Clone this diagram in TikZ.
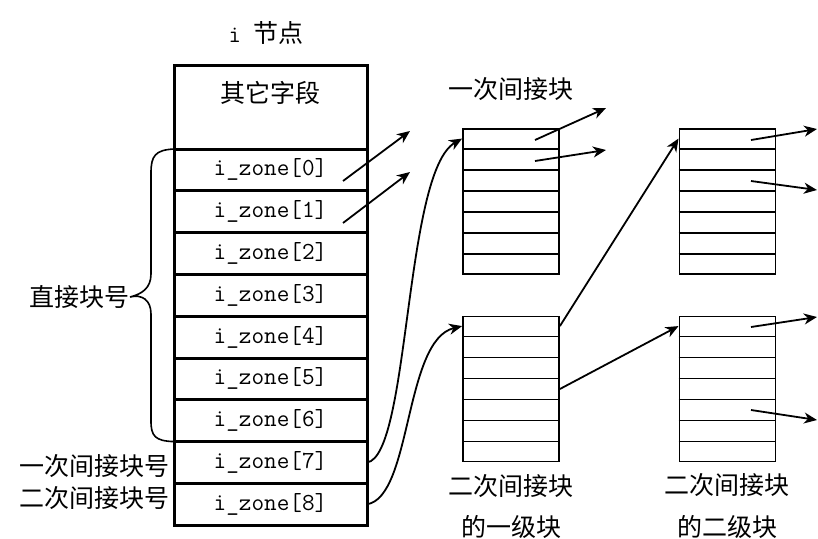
\documentclass[tikz,border=0pt]{standalone}
\usepackage{fontspec}
\newfontfamily\cjk{Noto Sans CJK SC}
\usetikzlibrary{arrows.meta,calc}
\begin{document}
\begin{tikzpicture}[x=1pt,y=-1pt,
  cell/.style={draw, line width=3pt, minimum width=193pt, minimum height=41.8pt,
    inner sep=0pt, outer sep=0pt, font=\fontsize{24.5}{28}\selectfont\ttfamily},
  blk/.style={draw, line width=1.8pt, minimum width=96pt, minimum height=145pt, inner sep=0pt},
  lab/.style={font=\fontsize{25}{30}\selectfont\cjk, inner sep=0pt},
  arr/.style={line width=1.8pt, -{Stealth[length=13pt,width=11pt,inset=4pt]}}
]
\useasboundingbox (0,0) rectangle (818,538);

% title
\node[lab] (title) at (266,33) {{\fontsize{24}{28}\selectfont\ttfamily i\ }节点};

% inode table
\node[cell, minimum height=84pt] (hdr) at (270.5,107) {};
\node[lab] (hdrtxt) at (270.5,93) {其它字段};
\foreach \i in {0,...,8} {
  \node[cell] (z\i) at (270.5,{169.9+41.8*\i}) {\raisebox{-3pt}{i\_zone[\i]}};
}

% brace and left labels
\node[lab, anchor=east] (direct) at (130,297) {直接块号};
\draw[line width=1.6pt] (z0.north west) .. controls (155,150) and (151,156) .. (151,173)
  -- (151,274) .. controls (151,288) and (142,294) .. (direct.east)
  .. controls (142,294) and (151,300) .. (151,314)
  -- (151,421) .. controls (151,436) and (155,441) .. (z6.south west);
\node[lab, anchor=east] (ind1) at (170,466) {一次间接块号};
\node[lab, anchor=east] (ind2) at (170,498) {二次间接块号};

% blocks
\node[blk] (b1) at (511,201.5) {};
\node[blk] (b2) at (511,389) {};
\node[blk] (b3) at (727.4,201.5) {};
\node[blk] (b4) at (727.4,389) {};
\foreach \b in {b1,b2,b3,b4} {
  \foreach \k in {1,...,6} {
    \draw[line width=1.8pt] ($(\b.north west)!\k/7!(\b.south west)$) -- ($(\b.north east)!\k/7!(\b.south east)$);
  }
}

% block labels
\node[lab] (l1) at (511,89) {一次间接块};
\node[lab] (l2a) at (511,486) {二次间接块};
\node[lab] (l2b) at (511,527) {的一级块};
\node[lab] (l3a) at (727,485) {二次间接块};
\node[lab] (l3b) at (727,527) {的二级块};

% direct pointers
\coordinate (s0) at (343,181);
\coordinate (e0) at (410,131);
\coordinate (s1) at (343,223);
\coordinate (e1) at (410,172);
\draw[arr] (s0) -- (e0);
\draw[arr] (s1) -- (e1);

% indirect curves
\coordinate (b1in) at ($(b1.north west)!0.5/7!(b1.south west)$);
\coordinate (b2in) at ($(b2.north west)!0.5/7!(b2.south west)$);
\draw[arr] (z7.east) .. controls (410,456) and (404,172) .. (b1in);
\draw[arr] (z8.east) .. controls (412,497) and (404,340) .. (b2in);

% block 1 pointers
\coordinate (p1a) at (535,140);
\coordinate (q1a) at (606,108);
\coordinate (p1b) at (535,161);
\coordinate (q1b) at (606,150);
\draw[arr] (p1a) -- (q1a);
\draw[arr] (p1b) -- (q1b);

% block 2 to level-2 blocks
\coordinate (b2o1) at ($(b2.north east)!0.5/7!(b2.south east)$);
\coordinate (b2o2) at ($(b2.north east)!3.5/7!(b2.south east)$);
\coordinate (b3in) at ($(b3.north west)!0.5/7!(b3.south west)$);
\coordinate (b4in) at ($(b4.north west)!0.5/7!(b4.south west)$);
\draw[arr] (b2o1) -- (b3in);
\draw[arr] (b2o2) -- (b4in);

% block 3 & 4 pointers
\coordinate (p3a) at (751,140);
\coordinate (q3a) at (817,129);
\coordinate (p3b) at (751,181);
\coordinate (q3b) at (817,190);
\coordinate (p4a) at (751,327);
\coordinate (q4a) at (817,317);
\coordinate (p4b) at (751,410);
\coordinate (q4b) at (817,420);
\draw[arr] (p3a) -- (q3a);
\draw[arr] (p3b) -- (q3b);
\draw[arr] (p4a) -- (q4a);
\draw[arr] (p4b) -- (q4b);
\end{tikzpicture}
\end{document}
